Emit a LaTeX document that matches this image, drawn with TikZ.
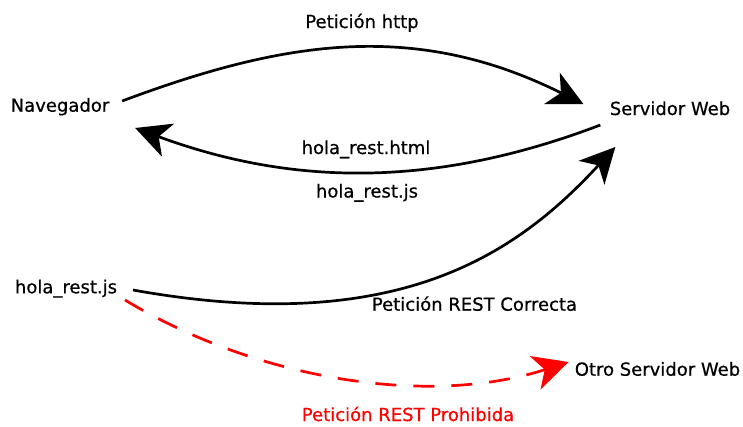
\documentclass[tikz,border=0pt]{standalone}
\usepackage{fontspec}
\setmainfont{DejaVu Sans}[FakeBold=0.6]
\usetikzlibrary{arrows.meta}
\tikzset{
  lbl/.style={anchor=base, inner sep=0pt, font=\fontsize{18}{21}\selectfont},
  conn/.style={line width=2.7pt, -{Stealth[length=35pt, width=35pt, inset=10pt]}},
  forbidden/.style={conn, red, dash pattern=on 21pt off 17pt},
}
\begin{document}
\begin{tikzpicture}[x=1pt, y=1pt]
  \fill[white] (0,0) rectangle (743,-426);
  \useasboundingbox (0,0) rectangle (743,-426);

  \node[lbl] (http) at (362,-28) {Petición http};
  \node[lbl] (nav)  at (60,-111.7) {Navegador};
  \node[lbl] (srv)  at (670,-115) {Servidor Web};
  \node[lbl] (html) at (366,-154) {hola\_rest.html};
  \node[lbl] (jsa)  at (367,-197.5) {hola\_rest.js};
  \node[lbl] (jsb)  at (66,-293.3) {hola\_rest.js};
  \node[lbl] (ok)   at (474.5,-310.7) {Petición REST Correcta};
  \node[lbl] (otro) at (657.5,-375.7) {Otro Servidor Web};
  \node[lbl, text=red] (proh) at (408,-421) {Petición REST Prohibida};

  % Petición http
  \draw[conn] ([xshift=12.7pt,yshift=10.7pt]nav.base east)
    .. controls (281.3,-41.5) and (413.1,-19.1) ..
    ([xshift=-26.3pt,yshift=11pt]srv.base west);
  % respuesta
  \draw[conn] ([xshift=-9.3pt,yshift=-10pt]srv.base west)
    .. controls (429.1,-190.3) and (287,-184.1) ..
    ([xshift=25.7pt,yshift=-16.3pt]nav.base east);
  % REST correcta
  \draw[conn] ([xshift=15.75pt,yshift=3.3pt]jsb.base east)
    .. controls (400,-338) and (518.4,-252) ..
    ([xshift=5.7pt,yshift=-32pt]srv.base west);
  % REST prohibida
  \draw[forbidden] ([xshift=7.75pt,yshift=-6.7pt]jsb.base east)
    .. controls (253.3,-377.6) and (425.4,-408.2) ..
    ([xshift=-6.1pt,yshift=13.7pt]otro.base west);
\end{tikzpicture}
\end{document}
